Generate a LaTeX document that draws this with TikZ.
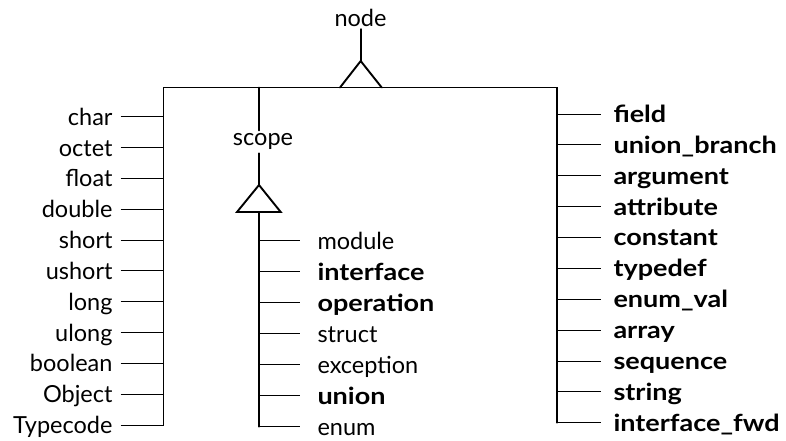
\documentclass[tikz,border=0pt]{standalone}
\usepackage{fontspec}
\usepackage{graphicx}
\setmainfont{Lato}
\newcommand{\bw}[1]{\scalebox{1.15}[1]{\bfseries #1}}
\begin{document}
\begin{tikzpicture}[x=1pt,y=1pt,
  bar/.style={line width=1.9pt, line cap=round, line join=miter},
  tick/.style={line width=0.8pt},
  lbl/.style={font=\fontsize{23.5}{28}\selectfont, text height=17pt, text depth=0pt, inner ysep=0pt},
  lleft/.style={lbl, anchor=east, inner xsep=8pt},
  lright/.style={lbl, anchor=west, inner xsep=12.6pt},
  lscope/.style={lbl, anchor=west, inner xsep=17.3pt}]
\useasboundingbox (0,0) rectangle (786,-440);
% frame
\coordinate (TL) at (163.5,-87.5);
\coordinate (TR) at (557,-87.5);
\coordinate (BL) at (163.5,-425);
\coordinate (BR) at (557,-422.7);
\draw[bar] (BL) -- (TL) -- (TR) -- (BR);
% node triangle
\coordinate (napex) at (360.7,-61);
\coordinate (nb1) at (340,-87.5);
\coordinate (nb2) at (381.7,-87.5);
\draw[bar] (nb1) -- (napex) -- (nb2);
\node[font=\fontsize{23.5}{28}\selectfont, text height=16pt, text depth=0pt, inner ysep=3pt, anchor=base] (nodelbl) at (360.5,-26) {node};
\draw[bar] (nodelbl.south -| napex) -- (napex);
% scope
\coordinate (stop) at (259,-87.5);
\node[font=\fontsize{23.5}{28}\selectfont, text height=12.5pt, text depth=5pt, inner ysep=2.5pt, anchor=base] (scopelbl) at (263,-145.7) {scope};
\coordinate (sapex) at (259,-185);
\coordinate (sb1) at (237,-212);
\coordinate (sb2) at (280.7,-212);
\coordinate (sbase) at (259,-212);
\coordinate (sbot) at (259,-426.7);
\draw[bar] (stop) -- (stop |- scopelbl.north);
\draw[bar] (stop |- scopelbl.south) -- (sapex);
\draw[bar] (sb1) -- (sapex) -- (sb2) -- cycle;
\draw[bar] (sbase) -- (sbot);
% left labels
\foreach \t [count=\i] in {char,octet,float,double,short,ushort,long,ulong,boolean,Object,Typecode}{
  \pgfmathsetmacro\yy{116.7+30.83*(\i-1)}
  \node[lleft] (L\i) at (120.7,-\yy) {\t};
  \coordinate (LB\i) at (163.5,-\yy);
  \draw[tick] (L\i) -- (LB\i);
}
% right labels
\foreach \t [count=\i] in {field,union\_branch,argument,attribute,constant,typedef,enum\_val,array,sequence,string,interface\_fwd}{
  \pgfmathsetmacro\yy{114+30.87*(\i-1)}
  \node[lright] (R\i) at (600.7,-\yy) {\bw{\t}};
  \coordinate (RB\i) at (557,-\yy);
  \draw[tick] (RB\i) -- (R\i);
}
% scope labels
\foreach \t/\b [count=\i] in {module/0,interface/1,operation/1,struct/0,exception/0,union/1,enum/0}{
  \pgfmathsetmacro\yy{240.7+31*(\i-1)}
  \ifnum\b=1
    \node[lscope] (S\i) at (300,-\yy) {\bw{\t}};
  \else
    \node[lscope] (S\i) at (300,-\yy) {\t};
  \fi
  \coordinate (SB\i) at (259,-\yy);
  \draw[tick] (SB\i) -- (S\i);
}
\end{tikzpicture}
\end{document}
